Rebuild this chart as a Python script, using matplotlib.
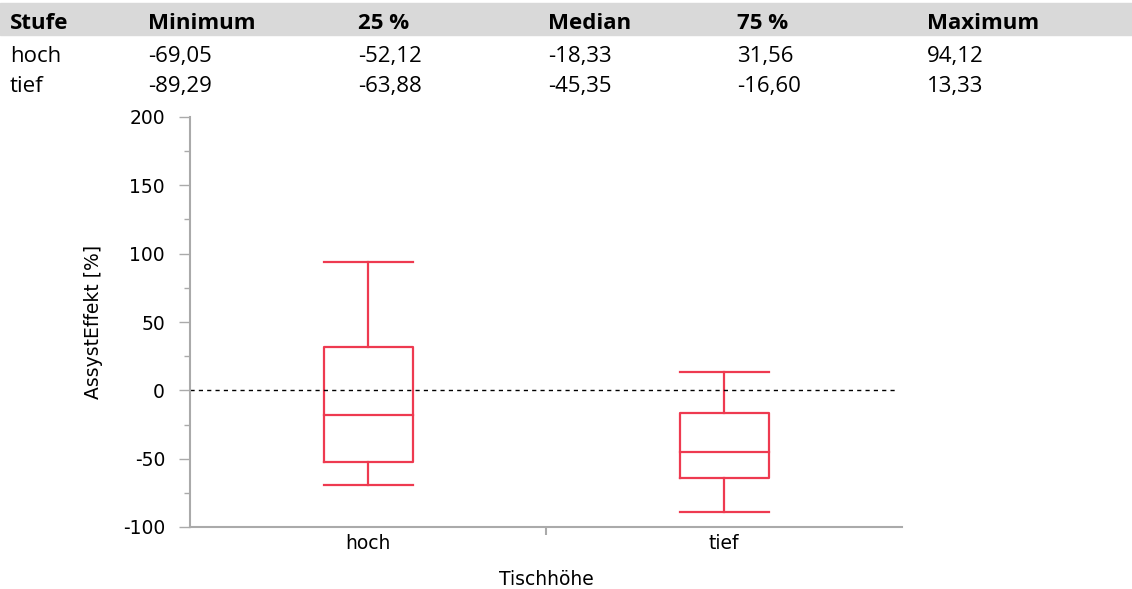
import numpy as np
import matplotlib.pyplot as plt
from matplotlib.ticker import FixedLocator, FuncFormatter

# Quantile summary per group
stufen = ["hoch", "tief"]
q_min = [-69.05, -89.29]
q_25 = [-52.12, -63.88]
q_med = [-18.33, -45.35]
q_75 = [31.56, -16.60]
q_max = [94.12, 13.33]

header = ["Stufe", "Minimum", "25 %", "Median", "75 %", "Maximum"]
yticks = [-100, -50, 0, 50, 100, 150, 200]

W, H = 1132, 589
fig = plt.figure(figsize=(W / 100, H / 100), dpi=100)

def px(x, y):
    return x / W, 1 - y / H

# summary table on top
tfont = ["Open Sans", "DejaVu Sans"]
col_x = [10, 148, 358, 548, 737, 927]
fig.patches.append(plt.Rectangle(px(0, 35), 1, 32 / H, transform=fig.transFigure,
                                 color="#d9d9d9", zorder=0))
for cx, h in zip(col_x, header):
    fig.text(*px(cx, 29), h, fontsize=16, fontweight="bold", va="baseline",
             family=tfont)
rows_y = [62, 92]
fmt = lambda v: ("%.2f" % v).replace(".", ",")
for i, name in enumerate(stufen):
    vals = [name] + [fmt(a[i]) for a in (q_min, q_25, q_med, q_75, q_max)]
    for cx, t in zip(col_x, vals):
        fig.text(*px(cx, rows_y[i]), t, fontsize=16, va="baseline", family=tfont)

# box plot
ax = fig.add_axes([190 / W, 1 - 527 / H, 712 / W, 410 / H])
red = "#ee3a50"
lw = 1.6
hw = 0.125
for i in range(len(stufen)):
    x = i + 0.5
    ax.plot([x - hw, x + hw, x + hw, x - hw, x - hw],
            [q_25[i], q_25[i], q_75[i], q_75[i], q_25[i]], color=red, lw=lw)
    ax.plot([x - hw, x + hw], [q_med[i]] * 2, color=red, lw=lw)
    ax.plot([x, x], [q_75[i], q_max[i]], color=red, lw=lw)
    ax.plot([x, x], [q_25[i], q_min[i]], color=red, lw=lw)
    ax.plot([x - hw, x + hw], [q_max[i]] * 2, color=red, lw=lw)
    ax.plot([x - hw, x + hw], [q_min[i]] * 2, color=red, lw=lw)

ax.plot([0, 1.99], [0, 0], color="black", lw=1, ls=(0, (3, 3)))

ax.set_xlim(0, 2)
ax.set_ylim(-100, 200)
ax.yaxis.set_major_locator(FixedLocator(yticks))
ax.yaxis.set_minor_locator(FixedLocator([t + 25 for t in yticks[:-1]]))
ax.yaxis.set_major_formatter(FuncFormatter(lambda v, p: "%d" % v))
ax.xaxis.set_major_locator(FixedLocator([0.5, 1.5]))
ax.xaxis.set_minor_locator(FixedLocator([1.0]))
ax.set_xticklabels(stufen)

for s in ("top", "right"):
    ax.spines[s].set_visible(False)
for s in ("left", "bottom"):
    ax.spines[s].set_color("#aaaaaa")
    ax.spines[s].set_linewidth(1.5)

ax.tick_params(axis="y", which="major", length=8, width=1, color="#aaaaaa",
               labelsize=13.5, pad=10)
ax.tick_params(axis="y", which="minor", length=4, width=1, color="#aaaaaa")
ax.tick_params(axis="x", which="major", length=0, labelsize=13.5, pad=5)
ax.tick_params(axis="x", which="minor", length=6, width=1.5, color="#aaaaaa")

ax.set_xlabel("Tischhöhe", fontsize=13.5, labelpad=12)
ax.set_ylabel("AssystEffekt [%]", fontsize=13.5, labelpad=14)

plt.savefig("out.png", dpi=100)
